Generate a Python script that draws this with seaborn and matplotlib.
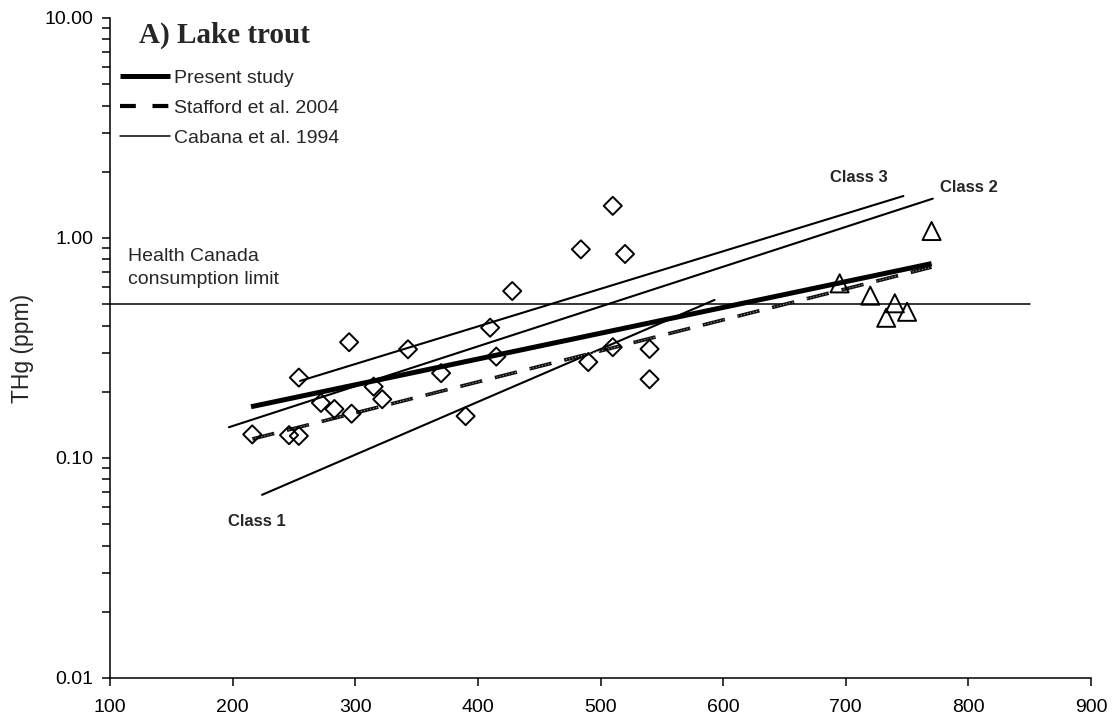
import matplotlib
matplotlib.use("Agg")
import matplotlib.pyplot as plt
import seaborn as sns
from matplotlib.lines import Line2D
from matplotlib.ticker import FixedLocator, FixedFormatter, LogLocator, NullFormatter

# Lake trout: total length (mm) vs total mercury (ppm)
small_len = [216, 246, 254, 254, 295, 272, 283, 297, 315, 322, 343, 370,
             410, 415, 390, 428, 490, 510, 484, 520, 510, 540, 540]
small_hg = [0.128, 0.127, 0.126, 0.232, 0.336, 0.178, 0.167, 0.159, 0.211,
            0.185, 0.312, 0.243, 0.391, 0.289, 0.155, 0.574, 0.273, 1.40,
            0.888, 0.846, 0.319, 0.313, 0.228]
large_len = [695, 720, 733, 740, 750, 770]
large_hg = [0.622, 0.547, 0.434, 0.505, 0.462, 1.076]

# Length-mercury regressions (end points)
present_len = [215, 770]
present_hg = [0.171, 0.765]
stafford_len = [216, 770]
stafford_hg = [0.122, 0.737]
class1_len = [224, 593]
class1_hg = [0.068, 0.523]
class2_len = [197, 771]
class2_hg = [0.138, 1.51]
class3_len = [255, 747]
class3_hg = [0.224, 1.552]

# Health Canada consumption guideline
hc_len = [100, 850]
hc_hg = [0.5, 0.5]

x_ticks = [100, 200, 300, 400, 500, 600, 700, 800, 900]
y_ticks = [0.01, 0.1, 1, 10]
y_tick_labels = ["0.01", "0.10", "1.00", "10.00"]

sns.set_style("ticks")
plt.rcParams["font.family"] = ["Liberation Sans", "DejaVu Sans"]

fig = plt.figure(figsize=(11.15, 7.2), dpi=100)
ax = fig.add_axes([110 / 1115, 1 - 678 / 720, 981 / 1115, 660 / 720])
ax.set_yscale("log")

# Regression lines
sns.lineplot(x=hc_len, y=hc_hg, color="black", lw=1.1, ax=ax)
sns.lineplot(x=class1_len, y=class1_hg, color="black", lw=1.5, ax=ax)
sns.lineplot(x=class2_len, y=class2_hg, color="black", lw=1.5, ax=ax)
sns.lineplot(x=class3_len, y=class3_hg, color="black", lw=1.5, ax=ax)
sns.lineplot(x=stafford_len, y=stafford_hg, color="#111111", lw=2.6,
             linestyle=(0, (6.3, 3.6)), ax=ax)
# fine speckle across the dashes of the Stafford line
sns.lineplot(x=stafford_len, y=stafford_hg, color="white", lw=0.7, alpha=0.6,
             linestyle=(0, (1.2, 2.0)), ax=ax)
sns.lineplot(x=present_len, y=present_hg, color="black", lw=3.6,
             solid_capstyle="butt", ax=ax)

# Observations
sns.scatterplot(x=small_len, y=small_hg, marker="D", s=85, facecolor="none",
                edgecolor="black", linewidth=1.4, ax=ax, zorder=4)
sns.scatterplot(x=large_len, y=large_hg, marker="^", s=170, facecolor="none",
                edgecolor="black", linewidth=1.4, ax=ax, zorder=4)

ax.set_xlim(100, 900)
ax.set_ylim(0.01, 10)
ax.xaxis.set_major_locator(FixedLocator(x_ticks))
ax.yaxis.set_major_locator(FixedLocator(y_ticks))
ax.yaxis.set_major_formatter(FixedFormatter(y_tick_labels))
ax.yaxis.set_minor_locator(LogLocator(base=10, subs=range(2, 10)))
ax.yaxis.set_minor_formatter(NullFormatter())
ax.tick_params(axis="both", which="both", direction="out", length=6,
               width=1.1, color="black", labelsize=14, labelcolor="black")
ax.tick_params(axis="x", pad=9)
ax.tick_params(axis="y", pad=6)
for side in ["left", "bottom"]:
    ax.spines[side].set_color("black")
    ax.spines[side].set_linewidth(1.1)
sns.despine(ax=ax)

ax.set_xlabel("")
ax.set_ylabel("THg (ppm)", fontsize=16.5)
ax.yaxis.set_label_coords(-0.077, 0.5)

ax.text(0.0296, 0.9626, "A) Lake trout", transform=ax.transAxes,
        fontsize=21, fontweight="bold", family="Liberation Serif",
        va="baseline", ha="left")

ax.text(0.0187, 0.6323, "Health Canada", transform=ax.transAxes,
        fontsize=14, va="baseline", ha="left")
ax.text(0.0187, 0.5965, "consumption limit", transform=ax.transAxes,
        fontsize=14, va="baseline", ha="left")

ax.text(196.5, 0.0491, "Class 1", fontsize=12, fontweight="bold",
        va="baseline", ha="left")
ax.text(687, 1.79, "Class 3", fontsize=12, fontweight="bold",
        va="baseline", ha="left")
ax.text(777, 1.61, "Class 2", fontsize=12, fontweight="bold",
        va="baseline", ha="left")

handles = [
    Line2D([], [], color="black", lw=3.6, solid_capstyle="butt"),
    Line2D([], [], color="black", lw=3.0, linestyle=(0, (3.8, 4.0))),
    Line2D([], [], color="black", lw=1.1),
]
labels = ["Present study", "Stafford et al. 2004", "Cabana et al. 1994"]
ax.legend(handles, labels, loc="upper left", bbox_to_anchor=(0.0102, 0.9227),
          frameon=False, fontsize=14, borderpad=0, borderaxespad=0,
          handlelength=2.57, handletextpad=0.2, labelspacing=0.64)

fig.savefig("out.png", dpi=100, facecolor="white")
